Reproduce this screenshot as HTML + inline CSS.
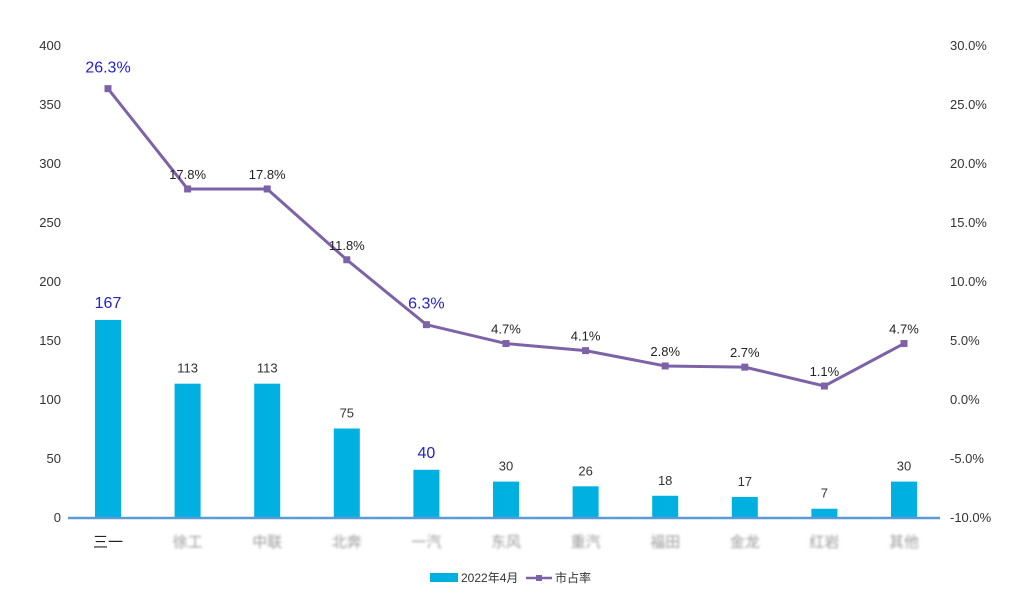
<!DOCTYPE html>
<html><head><meta charset="utf-8"><style>
body{margin:0;background:#fff;font-family:"Liberation Sans","Noto Sans CJK SC",sans-serif}
</style></head><body>
<svg id="c" width="1024" height="610" xmlns="http://www.w3.org/2000/svg">
<defs><filter id="bl"><feGaussianBlur stdDeviation="1.3"/></filter></defs>
<g id="g"></g>
</svg>
<script>
const categories=["三一","徐工","中联","北奔","一汽","东风","重汽","福田","金龙","红岩","其他"];
const sales=[167,113,113,75,40,30,26,18,17,7,30];
const share=[26.3,17.8,17.8,11.8,6.3,4.7,4.1,2.8,2.7,1.1,4.7];
const leftTicks=[0,50,100,150,200,250,300,350,400];
const rightTicks=[-10,-5,0,5,10,15,20,25,30];
const highlight=[0,4];
const NS="http://www.w3.org/2000/svg";
const g=document.getElementById('g');
const yL=v=>517-v*472/400;
const yR=v=>517-(v+10)*472/40;
const xC=i=>108+i*79.6;
function el(t,a,txt){const e=document.createElementNS(NS,t);for(const k in a)e.setAttribute(k,a[k]);if(txt!==undefined)e.textContent=txt;g.appendChild(e);return e;}
leftTicks.forEach(v=>{const t=el('text',{x:61,y:yL(v)+5,'text-anchor':'end','font-size':13,fill:'#333'},v);

});
rightTicks.forEach(v=>{const t=el('text',{x:950,y:yR(v)+5,'font-size':13,fill:'#333'},v.toFixed(1)+'%');

});
sales.forEach((v,i)=>{
const b=el('rect',{x:xC(i)-13,y:yL(v),width:26,height:517-yL(v),fill:'#00B0E0'});


const hl=highlight.includes(i);
const t=el('text',{x:xC(i),y:yL(v)-(hl?12:11),'text-anchor':'middle','font-size':hl?16:13,fill:hl?'#2222cc':'#333'},v);


const c=el('text',{x:xC(i),y:547,'text-anchor':'middle','font-size':15,fill:i==0?'#222':'#999',filter:i==0?'':'url(#bl)'},categories[i]);


});
const ax=el('line',{x1:68,x2:940,y1:518,y2:518,stroke:'#5B9BD5','stroke-width':2.5});


const ln=el('polyline',{points:share.map((v,i)=>xC(i)+','+yR(v)).join(' '),fill:'none',stroke:'#7E62A8','stroke-width':3});


share.forEach((v,i)=>{
const m=el('rect',{x:xC(i)-3.5,y:yR(v)-3.5,width:7,height:7,fill:'#7E62A8'});


const hl=highlight.includes(i);
const t=el('text',{x:xC(i),y:yR(v)-(hl?16:10),'text-anchor':'middle','font-size':hl?16:13,fill:hl?'#2222cc':'#222'},v.toFixed(1)+'%');


});
const lr=el('rect',{x:430,y:573,width:28,height:9,fill:'#00B0E0'});


const lt=el('text',{x:461,y:582,'font-size':12,fill:'#333'},'2022年4月');


const ll=el('line',{x1:526,x2:552,y1:578,y2:578,stroke:'#7E62A8','stroke-width':2.5});


const lm=el('rect',{x:536,y:575,width:6,height:6,fill:'#7E62A8'});


const lt2=el('text',{x:555,y:582,'font-size':12,fill:'#333'},'市占率');


</script>
</body></html>
